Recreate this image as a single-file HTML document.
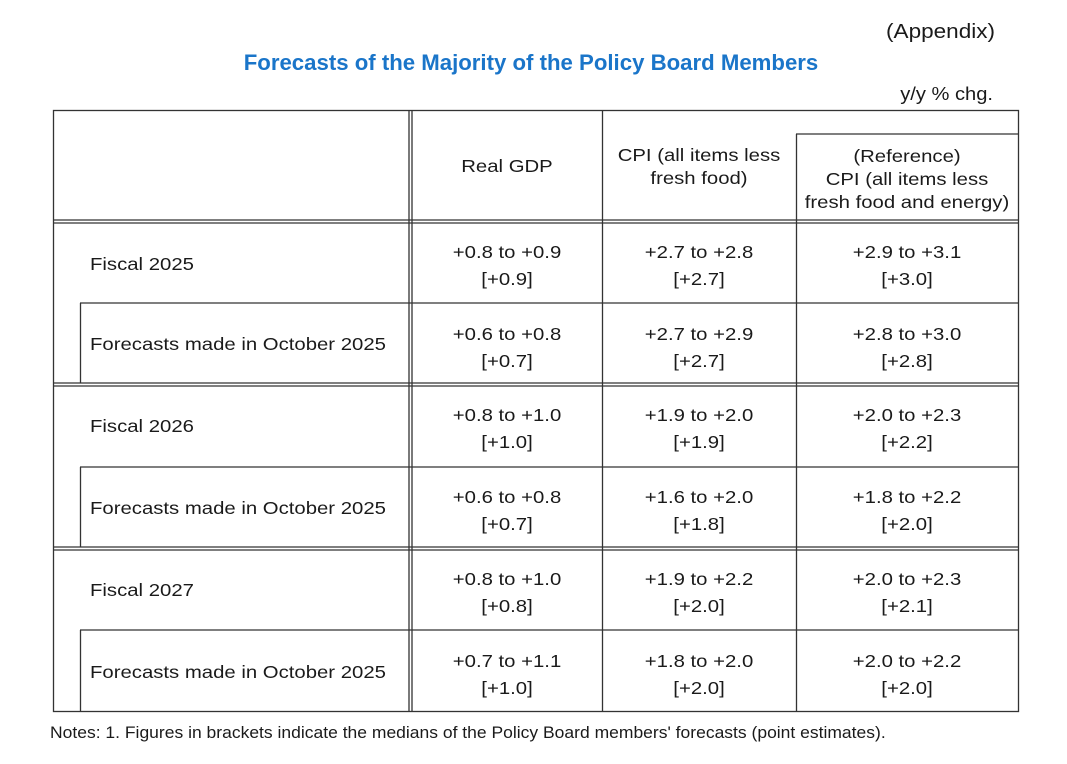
<!DOCTYPE html>
<html><head><style>body{margin:0;background:#fff}svg{display:block}text{font-family:"Liberation Sans",Arial,sans-serif;fill:#1a1a1a}</style></head><body>
<svg width="1067" height="764" viewBox="0 0 1067 764" xmlns="http://www.w3.org/2000/svg">
<text transform="translate(995,38) scale(1.1,1)" font-size="20.5" text-anchor="end">(Appendix)</text>
<text x="531" y="70" font-size="22.2" font-weight="bold" text-anchor="middle" style="fill:#1a75c9">Forecasts of the Majority of the Policy Board Members</text>
<text transform="translate(993,100) scale(1.1,1)" font-size="18.3" text-anchor="end">y/y % chg.</text>
<g stroke="#333" stroke-width="1.3" fill="none">
<rect x="53.5" y="110.5" width="965" height="601"/>
<line x1="409" y1="110" x2="409" y2="711"/><line x1="412" y1="110" x2="412" y2="711"/>
<line x1="602.5" y1="110" x2="602.5" y2="711"/>
<line x1="796.5" y1="134" x2="796.5" y2="711"/>
<line x1="796" y1="134" x2="1018" y2="134"/>
<line x1="53" y1="220" x2="1018" y2="220"/><line x1="53" y1="223" x2="1018" y2="223"/>
<line x1="53" y1="383" x2="1018" y2="383"/><line x1="53" y1="386" x2="1018" y2="386"/>
<line x1="53" y1="547" x2="1018" y2="547"/><line x1="53" y1="550" x2="1018" y2="550"/>
<line x1="80" y1="303" x2="1018" y2="303"/><line x1="80.5" y1="303" x2="80.5" y2="383"/>
<line x1="80" y1="467" x2="1018" y2="467"/><line x1="80.5" y1="467" x2="80.5" y2="547"/>
<line x1="80" y1="630" x2="1018" y2="630"/><line x1="80.5" y1="630" x2="80.5" y2="711"/>
</g>
<g font-size="18" text-anchor="middle">
<text transform="translate(507,172) scale(1.13,1)">Real GDP</text>
<text transform="translate(699,161) scale(1.13,1)">CPI (all items less</text><text transform="translate(699,184) scale(1.13,1)">fresh food)</text>
<text transform="translate(907,162) scale(1.13,1)">(Reference)</text><text transform="translate(907,185) scale(1.13,1)">CPI (all items less</text><text transform="translate(907,208) scale(1.13,1)">fresh food and energy)</text>
</g>
<g font-size="18">
<text transform="translate(90,270) scale(1.13,1)">Fiscal 2025</text>
<text transform="translate(90,350) scale(1.13,1)">Forecasts made in October 2025</text>
<text transform="translate(90,432) scale(1.13,1)">Fiscal 2026</text>
<text transform="translate(90,514) scale(1.13,1)">Forecasts made in October 2025</text>
<text transform="translate(90,596) scale(1.13,1)">Fiscal 2027</text>
<text transform="translate(90,678) scale(1.13,1)">Forecasts made in October 2025</text>
</g>
<g font-size="18" text-anchor="middle">
<text transform="translate(507,258) scale(1.13,1)">+0.8 to +0.9</text><text transform="translate(507,285) scale(1.13,1)">[+0.9]</text>
<text transform="translate(699,258) scale(1.13,1)">+2.7 to +2.8</text><text transform="translate(699,285) scale(1.13,1)">[+2.7]</text>
<text transform="translate(907,258) scale(1.13,1)">+2.9 to +3.1</text><text transform="translate(907,285) scale(1.13,1)">[+3.0]</text>
<text transform="translate(507,340) scale(1.13,1)">+0.6 to +0.8</text><text transform="translate(507,367) scale(1.13,1)">[+0.7]</text>
<text transform="translate(699,340) scale(1.13,1)">+2.7 to +2.9</text><text transform="translate(699,367) scale(1.13,1)">[+2.7]</text>
<text transform="translate(907,340) scale(1.13,1)">+2.8 to +3.0</text><text transform="translate(907,367) scale(1.13,1)">[+2.8]</text>
<text transform="translate(507,421) scale(1.13,1)">+0.8 to +1.0</text><text transform="translate(507,448) scale(1.13,1)">[+1.0]</text>
<text transform="translate(699,421) scale(1.13,1)">+1.9 to +2.0</text><text transform="translate(699,448) scale(1.13,1)">[+1.9]</text>
<text transform="translate(907,421) scale(1.13,1)">+2.0 to +2.3</text><text transform="translate(907,448) scale(1.13,1)">[+2.2]</text>
<text transform="translate(507,503) scale(1.13,1)">+0.6 to +0.8</text><text transform="translate(507,530) scale(1.13,1)">[+0.7]</text>
<text transform="translate(699,503) scale(1.13,1)">+1.6 to +2.0</text><text transform="translate(699,530) scale(1.13,1)">[+1.8]</text>
<text transform="translate(907,503) scale(1.13,1)">+1.8 to +2.2</text><text transform="translate(907,530) scale(1.13,1)">[+2.0]</text>
<text transform="translate(507,585) scale(1.13,1)">+0.8 to +1.0</text><text transform="translate(507,612) scale(1.13,1)">[+0.8]</text>
<text transform="translate(699,585) scale(1.13,1)">+1.9 to +2.2</text><text transform="translate(699,612) scale(1.13,1)">[+2.0]</text>
<text transform="translate(907,585) scale(1.13,1)">+2.0 to +2.3</text><text transform="translate(907,612) scale(1.13,1)">[+2.1]</text>
<text transform="translate(507,667) scale(1.13,1)">+0.7 to +1.1</text><text transform="translate(507,694) scale(1.13,1)">[+1.0]</text>
<text transform="translate(699,667) scale(1.13,1)">+1.8 to +2.0</text><text transform="translate(699,694) scale(1.13,1)">[+2.0]</text>
<text transform="translate(907,667) scale(1.13,1)">+2.0 to +2.2</text><text transform="translate(907,694) scale(1.13,1)">[+2.0]</text>
</g>
<text transform="translate(50,738) scale(1.08,1)" font-size="16.2">Notes: 1. Figures in brackets indicate the medians of the Policy Board members' forecasts (point estimates).</text>
</svg>
</body></html>
